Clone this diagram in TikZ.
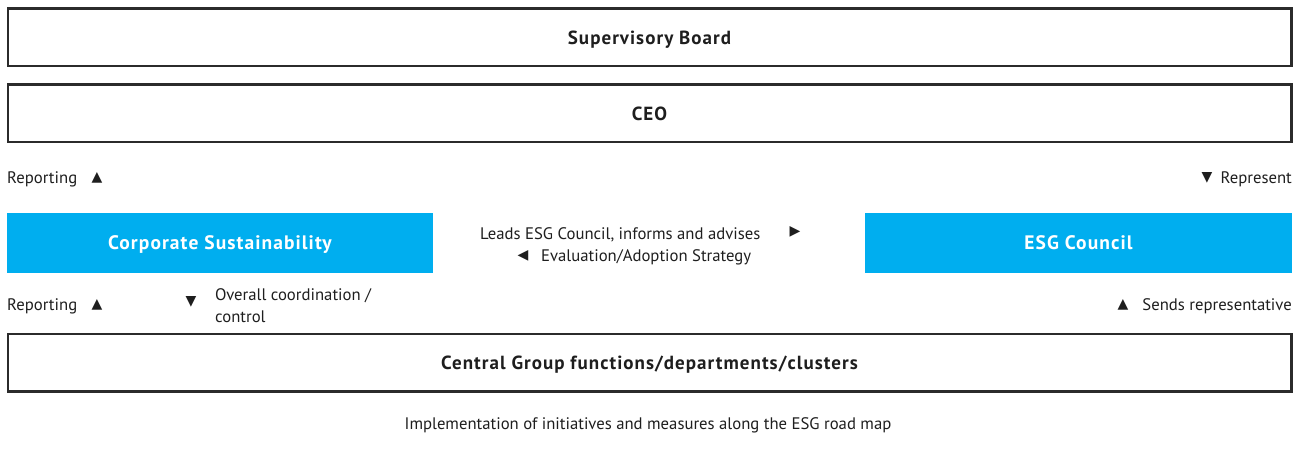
\documentclass[tikz,border=0pt]{standalone}
\usepackage{fontspec}
\setmainfont{PT Sans}
\newfontfamily\headfont[LetterSpace=5.5]{PT Sans}
\newfontfamily\symfont{DejaVu Sans}
\definecolor{frame}{HTML}{2B2B2B}
\definecolor{esgblue}{HTML}{00AEEF}
\definecolor{txt}{HTML}{1E1E1E}
\begin{document}
\begin{tikzpicture}[x=1pt,y=-1pt,
  outline/.style={draw=frame,line width=2.4pt,fill=white,minimum width=1283.6pt,minimum height=57.6pt,inner sep=0pt,
    text height=13.3pt,text depth=0pt,font=\fontsize{19}{22}\headfont\bfseries,text=txt},
  bluebox/.style={fill=esgblue,minimum height=60pt,inner sep=0pt,
    text height=13.6pt,text depth=0pt,font=\fontsize{19.5}{22}\headfont\bfseries,text=white},
  label/.style={inner sep=0pt,text height=11.7pt,text depth=0pt,font=\fontsize{16.7}{22}\selectfont,text=txt},
  tri/.style={inner sep=0pt,font=\symfont\fontsize{14}{14}\selectfont,text=txt}]
\useasboundingbox (0,0) rectangle (1305,449);
% management levels
\node[outline] (board) at (649.5,37.5) {Supervisory Board};
\node[outline] (ceo) at (649.5,113.5) {CEO};
\node[outline] (central) at (649.5,362.5) {Central Group functions/departments/clusters};
% sustainability bodies
\node[bluebox,minimum width=426pt] (cs) at (220,243) {Corporate Sustainability};
\node[bluebox,minimum width=427pt] (esg) at (1078.5,243) {ESG Council};
% relation labels with their direction markers
\node[label,anchor=west] (rep1) at (7,178) {Reporting};
\node[tri] (rep1tri) at (97,178) {▲};
\node[label,anchor=east] (repr) at (1292,178) {Represent};
\node[tri] (reprtri) at (1207,178) {▼};
\node[label,anchor=west] (lead) at (480,234) {Leads ESG Council, informs and advises};
\node[tri] (leadtri) at (795,232) {▶};
\node[label,anchor=west] (eval) at (541,256) {Evaluation/Adoption Strategy};
\node[tri] (evaltri) at (523,256) {◀};
\node[label,anchor=west] (rep2) at (7,305) {Reporting};
\node[tri] (rep2tri) at (97,305) {▲};
\node[tri] (coordtri) at (191,302) {▼};
% two-line label: its north edge sits at the cap top of the last line
\node[label,anchor=north west,align=left] (coord) at (215,310.2) {Overall coordination /\\control};
\node[label,anchor=east] (send) at (1292,305) {Sends representative};
\node[tri] (sendtri) at (1123,305) {▲};
\node[label] (impl) at (648,424) {Implementation of initiatives and measures along the ESG road map};
\end{tikzpicture}
\end{document}
